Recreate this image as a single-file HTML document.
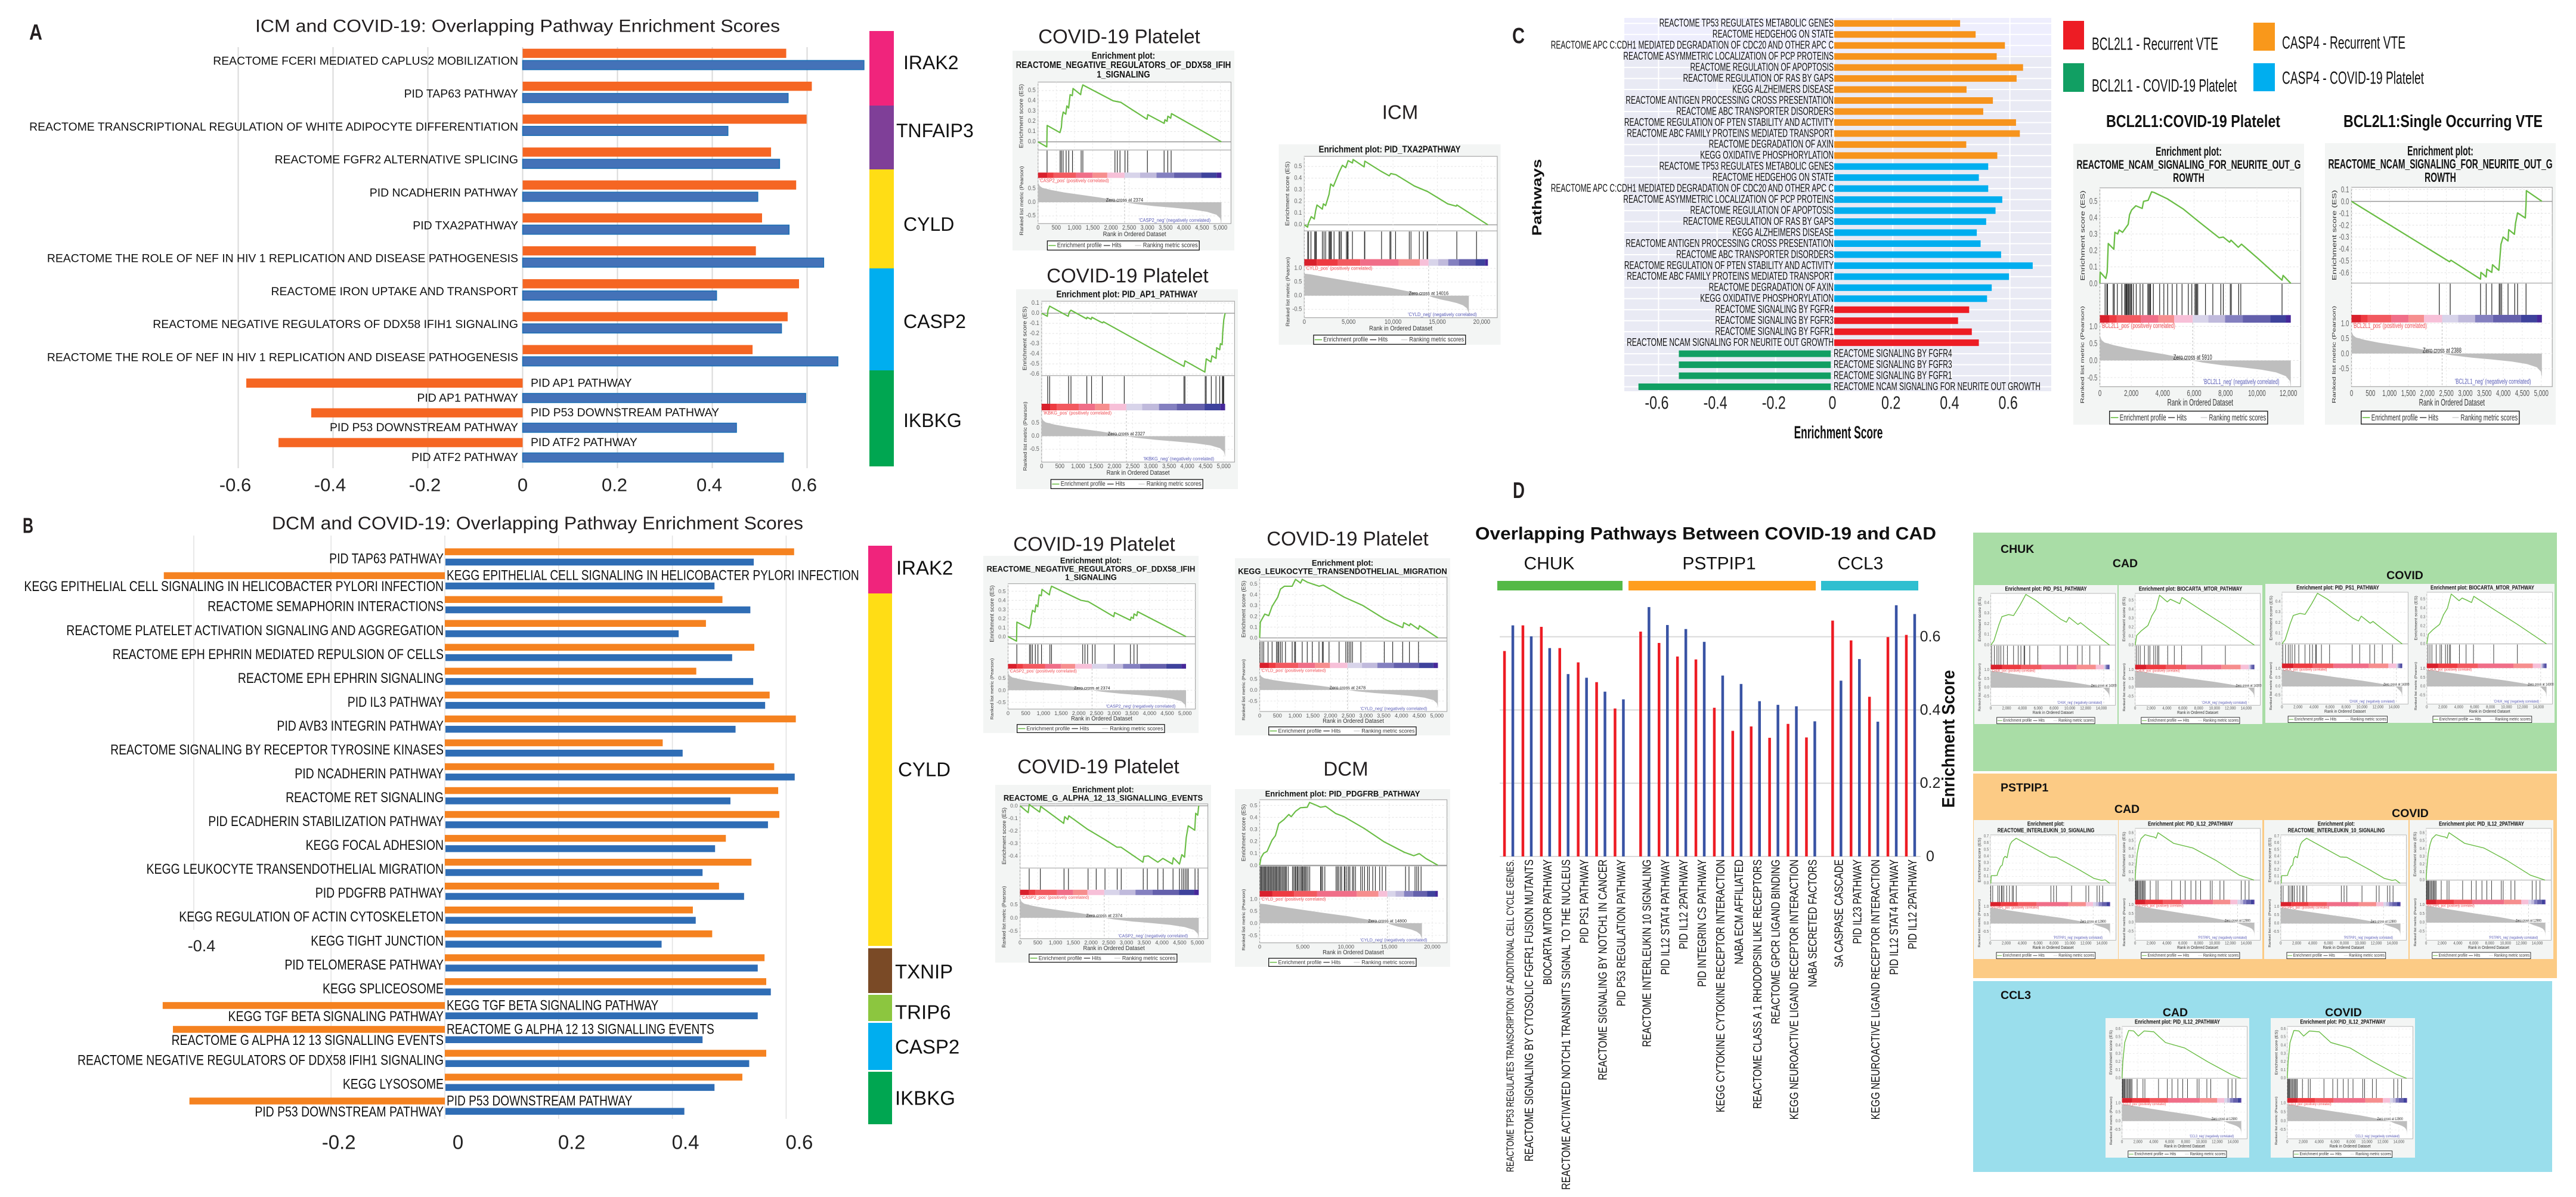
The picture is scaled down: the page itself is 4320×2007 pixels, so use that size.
<!DOCTYPE html>
<html lang="en">
<head>
<meta charset="utf-8">
<title>Overlapping Pathway Enrichment Figure</title>
<style>
html,body{margin:0;padding:0;background:#fff;}
svg{display:block;font-family:"Liberation Sans",Arial,sans-serif;}
text{dominant-baseline:central;fill:#111;}
</style>
</head>
<body>
<svg id="figure" xmlns="http://www.w3.org/2000/svg" width="4320" height="2007" viewBox="0 0 4320 2007">
<rect x="0" y="0" width="4320" height="2007" fill="#ffffff"/>

<!-- background tiles for panel D GSEA groups -->
<rect x="3309" y="893" width="979" height="400" fill="#A9DDA6"/>
<rect x="3309" y="1297" width="979" height="343" fill="#FCCB85"/>
<rect x="3309" y="1645" width="971" height="320" fill="#9ADEEC"/>

<g id="chartA"></g>
<g id="chartB"></g>
<g id="chartC"></g>
<g id="chartD"></g>
<g id="gseaPlots"></g>

<!-- panel letters -->
<text x="49" y="54" font-size="37" font-weight="700" textLength="22" lengthAdjust="spacingAndGlyphs" style="fill:#231F20">A</text>
<text x="38" y="881" font-size="36" font-weight="700" textLength="18" lengthAdjust="spacingAndGlyphs" style="fill:#231F20">B</text>
<text x="2536" y="60" font-size="37" font-weight="700" textLength="21" lengthAdjust="spacingAndGlyphs" style="fill:#231F20">C</text>
<text x="2537" y="823" font-size="38" font-weight="700" textLength="20" lengthAdjust="spacingAndGlyphs" style="fill:#231F20">D</text>

<!-- chart titles -->
<text x="428" y="44" font-size="30" textLength="880" lengthAdjust="spacingAndGlyphs" style="fill:#231F20">ICM and COVID-19: Overlapping Pathway Enrichment Scores</text>
<text x="456" y="877" font-size="31" textLength="891" lengthAdjust="spacingAndGlyphs" style="fill:#231F20">DCM and COVID-19: Overlapping Pathway Enrichment Scores</text>
<text x="2474" y="895" font-size="30" font-weight="700" textLength="773" lengthAdjust="spacingAndGlyphs">Overlapping Pathways Between COVID-19 and CAD</text>

<!-- gene strips A -->
<rect x="1458" y="52" width="41" height="125" fill="#F0247C"/>
<rect x="1458" y="177" width="41" height="107" fill="#7F3F98"/>
<rect x="1458" y="284" width="41" height="166" fill="#FFDD15"/>
<rect x="1458" y="450" width="41" height="171" fill="#00AEEF"/>
<rect x="1458" y="621" width="41" height="161" fill="#00A651"/>
<g font-size="32">
<text x="1515" y="105">IRAK2</text>
<text x="1503" y="219">TNFAIP3</text>
<text x="1515" y="376">CYLD</text>
<text x="1515" y="539">CASP2</text>
<text x="1515" y="705">IKBKG</text>
</g>

<!-- gene strips B -->
<rect x="1456" y="915" width="40" height="80" fill="#F0247C"/>
<rect x="1456" y="995" width="40" height="591" fill="#FFDD15"/>
<rect x="1456" y="1590" width="40" height="75" fill="#7A4A26"/>
<rect x="1456" y="1668" width="40" height="44" fill="#8CC63F"/>
<rect x="1456" y="1715" width="40" height="79" fill="#00AEEF"/>
<rect x="1456" y="1797" width="40" height="88" fill="#00A651"/>
<g font-size="33">
<text x="1503" y="952">IRAK2</text>
<text x="1506" y="1290">CYLD</text>
<text x="1501" y="1629">TXNIP</text>
<text x="1501" y="1697">TRIP6</text>
<text x="1501" y="1755">CASP2</text>
<text x="1501" y="1841">IKBKG</text>
</g>

<!-- legend C -->
<rect x="3460" y="35" width="35" height="48" fill="#ED1C24"/>
<text x="3508" y="74" font-size="30" textLength="212" lengthAdjust="spacingAndGlyphs">BCL2L1 - Recurrent VTE</text>
<rect x="3460" y="106" width="35" height="48" fill="#119F63"/>
<text x="3508" y="144" font-size="30" textLength="243" lengthAdjust="spacingAndGlyphs">BCL2L1 - COVID-19 Platelet</text>
<rect x="3779" y="38" width="36" height="47" fill="#F9981B"/>
<text x="3827" y="72" font-size="30" textLength="207" lengthAdjust="spacingAndGlyphs">CASP4 - Recurrent VTE</text>
<rect x="3779" y="106" width="36" height="47" fill="#00AEEF"/>
<text x="3827" y="131" font-size="30" textLength="238" lengthAdjust="spacingAndGlyphs">CASP4 - COVID-19 Platelet</text>

<!-- GSEA headers -->
<g font-size="33" style="text-anchor:middle">
<text x="1877" y="61" text-anchor="middle" style="fill:#231F20">COVID-19 Platelet</text>
<text x="1891" y="462" text-anchor="middle" style="fill:#231F20">COVID-19 Platelet</text>
<text x="2348" y="188" text-anchor="middle" style="fill:#231F20">ICM</text>
<text x="1835" y="912" text-anchor="middle" style="fill:#231F20">COVID-19 Platelet</text>
<text x="2260" y="903" text-anchor="middle" style="fill:#231F20">COVID-19 Platelet</text>
<text x="1842" y="1285" text-anchor="middle" style="fill:#231F20">COVID-19 Platelet</text>
<text x="2257" y="1289" text-anchor="middle" style="fill:#231F20">DCM</text>
</g>
<text x="3532" y="204" font-size="29" font-weight="700" textLength="292" lengthAdjust="spacingAndGlyphs">BCL2L1:COVID-19 Platelet</text>
<text x="3930" y="204" font-size="29" font-weight="700" textLength="334" lengthAdjust="spacingAndGlyphs">BCL2L1:Single Occurring VTE</text>

<!-- panel D group tile text -->
<g font-size="19.5" font-weight="700">
<text x="3355" y="921">CHUK</text>
<text x="3564" y="945" text-anchor="middle">CAD</text>
<text x="4033" y="965" text-anchor="middle">COVID</text>
<text x="3355" y="1321">PSTPIP1</text>
<text x="3567" y="1357" text-anchor="middle">CAD</text>
<text x="4042" y="1364" text-anchor="middle">COVID</text>
<text x="3355" y="1669">CCL3</text>
<text x="3648" y="1698" text-anchor="middle">CAD</text>
<text x="3930" y="1698" text-anchor="middle">COVID</text>
</g>
</svg>

<script>
/* ===== Chart A data ===== */
const catsA = ["REACTOME FCERI MEDIATED CAPLUS2 MOBILIZATION","PID TAP63 PATHWAY","REACTOME TRANSCRIPTIONAL REGULATION OF WHITE ADIPOCYTE DIFFERENTIATION","REACTOME FGFR2 ALTERNATIVE SPLICING","PID NCADHERIN PATHWAY","PID TXA2PATHWAY","REACTOME THE ROLE OF NEF IN HIV 1 REPLICATION AND DISEASE PATHOGENESIS","REACTOME IRON UPTAKE AND TRANSPORT","REACTOME NEGATIVE REGULATORS OF DDX58 IFIH1 SIGNALING","REACTOME THE ROLE OF NEF IN HIV 1 REPLICATION AND DISEASE PATHOGENESIS","PID AP1 PATHWAY","PID P53 DOWNSTREAM PATHWAY","PID ATF2 PATHWAY"];
const orangeA = [.556,.610,.599,.524,.577,.505,.492,.583,.559,.485,-.583,-.446,-.515];
const blueA = [.72,.56,.433,.542,.496,.562,.635,.409,.546,.665,.597,.451,.55];
const ticksA = [-0.6,-0.4,-0.2,0,0.2,0.4,0.6];
const tickLabelsA = ["-0.6","-0.4","-0.2","0","0.2","0.4","0.6"];

/* ===== Chart B data ===== */
const catsB = ["PID TAP63 PATHWAY","KEGG EPITHELIAL CELL SIGNALING IN HELICOBACTER PYLORI INFECTION","REACTOME SEMAPHORIN INTERACTIONS","REACTOME PLATELET ACTIVATION SIGNALING AND AGGREGATION","REACTOME EPH EPHRIN MEDIATED REPULSION OF CELLS","REACTOME EPH EPHRIN SIGNALING","PID IL3 PATHWAY","PID AVB3 INTEGRIN PATHWAY","REACTOME SIGNALING BY RECEPTOR TYROSINE KINASES","PID NCADHERIN PATHWAY","REACTOME RET SIGNALING","PID ECADHERIN STABILIZATION PATHWAY","KEGG FOCAL ADHESION","KEGG LEUKOCYTE TRANSENDOTHELIAL MIGRATION","PID PDGFRB PATHWAY","KEGG REGULATION OF ACTIN CYTOSKELETON","KEGG TIGHT JUNCTION","PID TELOMERASE PATHWAY","KEGG SPLICEOSOME","KEGG TGF BETA SIGNALING PATHWAY","REACTOME G ALPHA 12 13 SIGNALLING EVENTS","REACTOME NEGATIVE REGULATORS OF DDX58 IFIH1 SIGNALING","KEGG LYSOSOME","PID P53 DOWNSTREAM PATHWAY"];
const orangeB = [.614,-.494,.488,.459,.544,.442,.571,.617,.383,.579,.586,.588,.494,.539,.482,.436,.470,.562,.565,-.496,-.478,.565,.523,-.449];
const blueB = [.542,.473,.536,.410,.504,.541,.562,.510,.417,.614,.501,.567,.474,.452,.525,.440,.380,.549,.572,.549,.452,.534,.473,.420];
const ticksB = [-0.2,0,0.2,0.4,0.6];
const tickLabelsB = ["-0.2","0","0.2","0.4","0.6"];
const gridB = [-0.2,0,0.2,0.4,0.6];

/* ===== Chart C data ===== */
const catsC = ["REACTOME TP53 REGULATES METABOLIC GENES","REACTOME HEDGEHOG ON STATE","REACTOME APC C:CDH1 MEDIATED DEGRADATION OF CDC20 AND OTHER APC C","REACTOME ASYMMETRIC LOCALIZATION OF PCP PROTEINS","REACTOME REGULATION OF APOPTOSIS","REACTOME REGULATION OF RAS BY GAPS","KEGG ALZHEIMERS DISEASE","REACTOME ANTIGEN PROCESSING CROSS PRESENTATION","REACTOME ABC TRANSPORTER DISORDERS","REACTOME REGULATION OF PTEN STABILITY AND ACTIVITY","REACTOME ABC FAMILY PROTEINS MEDIATED TRANSPORT","REACTOME DEGRADATION OF AXIN","KEGG OXIDATIVE PHOSPHORYLATION"];
const casp4Vte = [.430,.483,.583,.555,.645,.623,.452,.542,.509,.621,.634,.451,.557];
const casp4Covid = [.526,.494,.526,.574,.551,.519,.487,.500,.570,.678,.597,.538,.522];
const catsFgfr = ["REACTOME SIGNALING BY FGFR4","REACTOME SIGNALING BY FGFR3","REACTOME SIGNALING BY FGFR1","REACTOME NCAM SIGNALING FOR NEURITE OUT GROWTH"];
const bcl2l1Vte = [.461,.423,.470,.494];
const bcl2l1Covid = [-.519,-.519,-.519,-.657];
const ticksC = [-0.6,-0.4,-0.2,0,0.2,0.4,0.6];
const tickLabelsC = ["-0.6","-0.4","-0.2","0","0.2","0.4","0.6"];

/* ===== Chart D data ===== */
const catsD = ["REACTOME TP53 REGULATES TRANSCRIPTION OF ADDITIONAL CELL CYCLE GENES.","REACTOME SIGNALING BY CYTOSOLIC FGFR1 FUSION MUTANTS","BIOCARTA MTOR PATHWAY","REACTOME ACTIVATED NOTCH1 TRANSMITS SIGNAL TO THE NUCLEUS","PID PS1 PATHWAY","REACTOME SIGNALING BY NOTCH1 IN CANCER","PID P53 REGULATION PATHWAY","REACTOME INTERLEUKIN 10 SIGNALING","PID IL12 STAT4 PATHWAY","PID IL12 2PATHWAY","PID INTEGRIN CS PATHWAY","KEGG CYTOKINE CYTOKINE RECEPTOR INTERACTION","NABA ECM AFFILIATED","REACTOME CLASS A 1 RHODOPSIN LIKE RECEPTORS","REACTOME GPCR LIGAND BINDING","KEGG NEUROACTIVE LIGAND RECEPTOR INTERACTION","NABA SECRETED FACTORS","SA CASPASE CASCADE","PID IL23 PATHWAY","KEGG NEUROACTIVE LIGAND RECEPTOR INTERACTION","PID IL12 STAT4 PATHWAY","PID IL12 2PATHWAY"];
const redD = [.561,.631,.627,.569,.530,.476,.404,.614,.583,.546,.538,.406,.343,.355,.324,.362,.325,.644,.59,.436,.599,.605];
const navyD = [.631,.601,.569,.498,.488,.45,.429,.681,.632,.621,.586,.494,.471,.424,.414,.41,.369,.48,.539,.368,.686,.662];
const ticksD = [0,0.2,0.4,0.6];
const tickLabelsD = ["0","0.2","0.4","0.6"];
const groupsD = ["CHUK","PSTPIP1","CCL3"];

/* ===== GSEA shared axis ticks ===== */
const ticks5k = [0,500,1000,1500,2000,2500,3000,3500,4000,4500,5000];
const ticks12k = [0,2000,4000,6000,8000,10000,12000];
const ticks14k = [0,2000,4000,6000,8000,10000,12000,14000];
const ticks20k = [0,5000,10000,15000,20000];
const esTicksPos5 = [0,.1,.2,.3,.4,.5];
const esTicksPos4 = [0,.1,.2,.3,.4];
const esTicksPos6 = [0,.1,.2,.3,.4,.5,.6];
const esTicksPos7 = [0,.1,.2,.3,.4,.5,.6,.7];
const esTicksAp1 = [.1,0,-.1,-.2,-.3,-.4,-.5,-.6];
const esTicksAlpha = [0,-.1,-.2,-.3,-.4];
const esTicksVte = [.1,0,-.1,-.2,-.3,-.4,-.5,-.6];
const metricTicks3 = [.5,0,-.5];
const metricTicks4 = [1,.5,0,-.5];
/* ranked-metric profiles read from the grey areas */
const metricPosFrac = [0,.02,.05,.15,.3,.5,.7,.85,1];
const metricPosVal = [.72,.60,.53,.45,.36,.27,.18,.10,0];
const metricWideFrac = [0,.05,.15,.3,.5,.7,.85,1];
const metricWideVal = [.95,.92,.82,.68,.5,.33,.17,0];
const metricNegFrac = [0,.1,.3,.5,.7,.85,.95,.99,1];
const metricNegVal = [0,-.06,-.14,-.2,-.27,-.35,-.46,-.6,-.8];
const heatPosStops = [.105,.18,.44,.63,.8,1];
const heatPosStopsWide = [.1,.27,.45,.76,.93,1];
const heatPosColors = ["#D9202C","#EE3B41","#F2595F","#F06E88","#F68E8E","#F7C0D8"];
const heatNegStops = [.16,.33,.51,.79,.95,1];
const heatNegColors = ["#D8D4EA","#C0BADC","#8480C0","#6460AC","#3E429C","#46289A"];

/* ===== GSEA series ===== */
const ddx58Rank = [0,240,250,600,640,660,690,760,790,840,880,940,960,1170,1185,1229,2060,2270,2990,3010,3460,3480,3540,3560,3640,3660,5030];
const ddx58Es = [0,-.05,.16,.09,.14,.23,.29,.27,.35,.33,.46,.45,.52,.46,.50,.555,.40,.385,.22,.265,.18,.215,.20,.25,.23,.275,0];
const ddx58Hits = [248,606,642,688,771,844,945,1183,1229,2110,2174,2248,2385,2459,3000,3458,3559,3651];
const ap1Rank = [0,157,176,222,731,760,806,1232,1250,1361,1380,1667,1700,3908,3935,4482,4519,4648,4676,4787,4806,4889,4907,4954,4972,5000,5037];
const ap1Es = [0,-.03,.03,.07,-.03,.01,.03,-.055,-.04,-.06,-.04,-.095,-.085,-.525,-.47,-.58,-.45,-.48,-.42,-.445,-.34,-.36,-.30,-.31,-.185,-.065,0];
const ap1Hits = [167,222,741,806,1241,1371,1667,2269,3908,3935,4491,4519,4658,4787,4889,4963,4982,5000];
const txa2Rank = [0,377,452,790,1130,1280,1430,2035,2150,2410,2790,2980,3280,3920,4300,4675,4940,5430,5500,6750,6820,8630,9580,9760,10330,12400,13900,16170,17120,17200,20700];
const txa2Es = [0,-.02,.01,.07,.05,.12,.17,.135,.18,.165,.26,.35,.33,.45,.51,.49,.55,.53,.56,.497,.546,.46,.42,.44,.43,.333,.285,.18,.16,.17,0];
const txa2Hits = [377,490,754,1169,1282,1357,2036,2224,2413,2790,2865,2978,3054,3356,3921,4034,4185,4750,4863,4939,5429,6786,6824,8709,9651,9764,10292,11837,12026,12968,13420,13835,13911,17191,19416];
const leukoRank = [0,19,142,255,350,510,585,700,917,1011,1153,1200,1342,1673,1795,2381,2901,3515,3752,4035,4064,4224,4252,4479,4508,5028];
const leukoEs = [0,.145,.22,.205,.29,.376,.45,.477,.477,.54,.506,.54,.514,.477,.486,.376,.30,.175,.138,.095,.14,.112,.132,.08,.112,0];
const leukoHits = [9,66,113,236,350,473,510,539,586,633,728,917,983,1011,1200,1342,1484,1673,1767,1795,1956,2240,2429,2476,2523,2570,2617,2854,3515,3752,4035,4224,4479];
const alphaRank = [0,229,258,553,582,1230,1259,1345,1374,1889,2394,2728,2843,3463,3492,3616,3883,4026,4293,4322,4493,4560,4636,4684,4741,4923,4951,5008,5037];
const alphaEs = [0,-.055,.01,-.05,-.005,-.14,-.087,-.11,-.08,-.185,-.27,-.33,-.33,-.45,-.405,-.40,-.45,-.42,-.465,-.415,-.465,-.39,-.41,-.255,-.16,-.195,-.06,-.075,0];
const alphaHits = [258,572,1240,1364,1917,2147,2394,2738,2852,3472,3587,3883,4035,4312,4493,4560,4608,4655,4703,4741,4932,5018];
const pdgfrbRank = [0,155,465,855,1435,1825,2210,2795,3375,3650,4150,4735,5510,5780,6480,7060,7640,8810,9780,12100,14430,16760,17850,18500,19280,20640];
const pdgfrbEs = [0,.063,.10,.115,.21,.247,.347,.38,.424,.405,.45,.48,.484,.524,.503,.484,.492,.432,.405,.308,.195,.108,.08,.097,.055,0];
const pdgfrbHits = [60,180,260,380,500,600,700,830,950,1050,1180,1290,1400,1530,1640,1760,1880,1970,2100,2230,2340,2460,2600,2730,2860,2980,3100,3300,3800,3950,4100,4200,4350,4400,4550,4700,4850,4950,5050,5200,5300,5450,5600,5800,7050,7150,7300,7550,8850,9000,9150,9350,9500,9800,9900,10100,10300,10450,10750,10900,11100,11700,11900,12150,12500,12700,13100,13400,13900,14200,14600,16900,17300,18000,18200,18400,18700];
const ncamCovidRank = [0,22,378,467,534,890,957,1135,1224,1447,1803,1892,2026,2292,2693,2782,3072,3295,3450,4296,5298,6300,7590,7858,8258,8347,8815,9015,10084,11597,11665,12154];
const ncamCovidEs = [0,.068,.03,.068,.242,.207,.31,.30,.324,.31,.358,.417,.446,.471,.455,.498,.504,.556,.552,.513,.452,.374,.277,.281,.25,.262,.219,.238,.149,.019,.048,0];
const ncamCovidHits = [334,445,490,846,913,1113,1402,1580,1647,1692,1736,1803,1847,1914,1981,2026,2137,2315,2560,2738,3050,3117,3183,3228,3406,3806,4073,4318,4607,4897,5231,5631,5853,6054,6121,6165,6232,6722,7190,7701,7858,8303,8370,8837,8971,11597];
const ncamVteRank = [0,2583,2620,3400,3409,3549,3567,3697,3716,3883,3902,3939,3995,4125,4143,4292,4320,4376,4580,4599,4608,5017];
const ncamVteEs = [0,-.508,-.495,-.654,-.597,-.636,-.57,-.597,-.533,-.58,-.505,-.36,-.30,-.333,-.238,-.277,-.187,-.097,-.14,-.025,.09,0];
const ncamVteHits = [2313,2601,3400,3549,3697,3892,3920,3957,4125,4301,4376,4599];
const ps1Rank = [0,390,1020,1410,2240,2880,3710,4440,5660,8830,9570,9910,11030,11370,12350,15030];
const ps1Es = [0,.04,.19,.27,.29,.28,.38,.48,.425,.246,.217,.263,.196,.213,.154,0];
const ps1Hits = [100,440,780,1020,1270,1610,2100,2880,3460,3810,4200,4300,4930,5950,8780,9710,10980,11570,12540,13810];
const mtorRank = [0,195,730,1610,2100,2590,3070,4050,4440,5610,5900,8200,11370,15030];
const mtorEs = [0,.108,.157,.22,.328,.40,.56,.485,.515,.465,.534,.40,.22,0];
const mtorHits = [146,390,634,1171,1660,1854,2342,2586,2830,2977,4100,4930,5856,8394,11370];
const il10Rank = [0,60,120,300,850,950,1300,1500,1650,1850,2100,2300,2500,2700,3250,7500,8300,11000,13000,14000,14400,15000];
const il10Es = [0,.0,.11,.11,.115,.16,.25,.27,.37,.40,.38,.50,.58,.62,.67,.39,.385,.21,.07,.04,.05,-.005];
const il10Hits = [60,300,950,1150,1400,1500,1700,2050,2400,2750,2900,3250,7600,7950,8300,10200,12000,12350,13400,13700,14100];
const il12Rank = [0,70,260,500,740,1250,1900,2400,2640,2880,4830,7270,10200,13130,14990];
const il12Es = [0,.13,.34,.46,.53,.58,.56,.55,.535,.606,.47,.41,.25,.064,0];
const il12Hits = [40,100,180,280,380,500,640,760,900,1000,1130,1250,1900,2640,2880,4600,5710,6300,7030,7650,8250,9470,9710,10690,11180,13370,13860,14350];
const il12CclRank = [0,100,340,830,1460,2050,2780,4000,5470,7900,10830,13760,14980];
const il12CclEs = [0,.2,.435,.58,.575,.513,.575,.565,.435,.368,.2,.047,0];

/* ===== helpers ===== */
const NS = 'http://www.w3.org/2000/svg';
function mk(parent,tag,attrs){
  const el = document.createElementNS(NS,tag);
  for(const k in attrs) el.setAttribute(k,attrs[k]);
  parent.appendChild(el);
  return el;
}
function rectEl(p,x,y,w,h,fill){
  if(w<0){x+=w;w=-w;}
  return mk(p,'rect',{x:x,y:y,width:w,height:h,fill:fill});
}
function lineEl(p,x1,y1,x2,y2,stroke,sw,dash){
  const a = {x1:x1,y1:y1,x2:x2,y2:y2,stroke:stroke,'stroke-width':sw};
  if(dash) a['stroke-dasharray']=dash;
  return mk(p,'line',a);
}
function label(p,x,y,str,size,o){
  o = o||{};
  let tr = 'translate('+x+' '+y+')';
  if(o.rot) tr += ' rotate('+o.rot+')';
  if(o.sx||o.sy) tr += ' scale('+(o.sx||1)+' '+(o.sy||1)+')';
  const el = mk(p,'text',{transform:tr,'font-size':size,'text-anchor':o.anchor||'start','font-weight':o.weight||400});
  if(o.fill) el.style.fill = o.fill;
  el.textContent = str;
  return el;
}

/* ===== Chart A ===== */
(function(){
  const g = document.getElementById('chartA');
  const xA = v => 876.5 + v*795;
  const yA = i => i<10 ? 81.7 + i*55.2 : 634.6 + (i-10)*49.9;
  ticksA.forEach((t,i)=>{
    const gl = lineEl(g,xA(t),79,xA(t),785,'#D9D9D9',2);
    
    
    const tl = label(g,xA(t)+(t===0?0:-5),813,tickLabelsA[i],31,{anchor:'middle',fill:'#222'});
    
    
  });
  catsA.forEach((c,i)=>{
    const neg = orangeA[i]<0;
    const y = yA(i);
    const off = neg ? 25 : 19.7;
    const ob = rectEl(g,xA(0),y,xA(orangeA[i])-xA(0),15.4,'#F56623');
    
    
    const bb = rectEl(g,xA(0),y+off,xA(blueA[i])-xA(0),15.4,'#4472B8');
    bb.setAttribute('stroke','#1A6FB5');
    bb.setAttribute('stroke-width','1.5');
    
    
    const lab = label(g,869,neg? y+off+7.7 : y+20.8,c,19.4,{anchor:'end'});
    
    
    if(neg){
      const rl = label(g,890,y+7.7,c,19.4);
      
      
    }
  });
})();

/* ===== Chart B ===== */
(function(){
  const g = document.getElementById('chartB');
  const xB = v => 746 + v*954;
  const yB = i => 919.4 + i*40.04;
  gridB.forEach(t=>{
    const gl = lineEl(g,xB(t),898,xB(t),1876,'#E2E2E2',1.5);
    
    
  });
  const stray = lineEl(g,325,898,325,1559,'#E2E2E2',1.5);
  
  
  const strayLabel = label(g,338,1586,'-0.4',27,{anchor:'middle',fill:'#222'});
  
  
  ticksB.forEach((t,i)=>{
    const tl = label(g,xB(t)+(t<0?13:22),1915,tickLabelsB[i],33,{anchor:'middle',fill:'#222'});
    
    
  });
  catsB.forEach((c,i)=>{
    const neg = orangeB[i]<0;
    const y = yB(i);
    const ob = rectEl(g,xB(0),y,xB(orangeB[i])-xB(0),11.5,'#F58220');
    
    
    const bb = rectEl(g,xB(0)+1,y+17.3,xB(blueB[i])-xB(0),11.5,'#2F6DB5');
    
    
    const lab = label(g,744,neg? y+23.5 : y+17,c,24,{anchor:'end',sx:.81});
    
    
    if(neg){
      const rl = label(g,749,y+5,c,24,{sx:.796});
      
      
    }
  });
})();

/* ===== Chart C ===== */
(function(){
  const g = document.getElementById('chartC');
  const xC = v => 3076 + v*491;
  const yC = i => 39.3 + i*18.46;
  const bg = rectEl(g,2724,30,716,626,'#E9EAF4');
  
  
  const bgTop = rectEl(g,2724,30,716,62,'#EEEEFD');
  
  
  ticksC.forEach((t,i)=>{
    const gl = lineEl(g,xC(t),30,xC(t),656,'#ffffff',2);
    
    
    const tl = label(g,xC(t)-3,675,tickLabelsC[i],31,{anchor:'middle',sx:.75,fill:'#222'});
    
    
  });
  const n = catsC.length;
  for(let i=0;i<n*2+catsFgfr.length*2;i++){
    const hl = lineEl(g,2724,yC(i),3440,yC(i),'#ffffff',2);
    
    
  }
  const h = 11;
  casp4Vte.forEach((v,i)=>{
    const b = rectEl(g,xC(0),yC(i)-h/2,xC(v)-xC(0),h,'#F7941D');
    
    
    const l = label(g,3075,yC(i),catsC[i],18.7,{anchor:'end',sx:.643});
    
    
  });
  casp4Covid.forEach((v,i)=>{
    const b = rectEl(g,xC(0),yC(n+i)-h/2,xC(v)-xC(0),h,'#00AEEF');
    
    
    const l = label(g,3075,yC(n+i),catsC[i],18.7,{anchor:'end',sx:.643});
    
    
  });
  bcl2l1Vte.forEach((v,i)=>{
    const b = rectEl(g,xC(0),yC(2*n+i)-h/2,xC(v)-xC(0),h,'#ED1C24');
    
    
    const l = label(g,3075,yC(2*n+i),catsFgfr[i],18.7,{anchor:'end',sx:.643});
    
    
  });
  bcl2l1Covid.forEach((v,i)=>{
    const b = rectEl(g,xC(0)-5.7,yC(2*n+4+i)-h/2,xC(v)-xC(0),h,'#119F63');
    
    
    const l = label(g,3075,yC(2*n+4+i),catsFgfr[i],18.7,{sx:.643});
    
    
  });
  const xt = label(g,3083,726,'Enrichment Score',30,{anchor:'middle',weight:700,sx:.58});
  
  
  const yt = label(g,2578,331,'Pathways',22,{anchor:'middle',weight:700,rot:-90,sx:1.27});
  
  
})();

/* ===== Chart D ===== */
(function(){
  const g = document.getElementById('chartD');
  const xD = i => 2523 + i*30.9 + (i>=7?12:0) + (i>=17?13:0);
  const yD = v => 1436 - v*614;
  const barColors = ['#55B947','#FF9E1F','#2FBFD0'];
  const barSpans = [[2511,2721],[2731,3045],[3054,3217]];
  const groupCenters = [2598,2883,3120];
  groupsD.forEach((name,i)=>{
    const t = label(g,groupCenters[i],945,name,30,{anchor:'middle'});
    
    
    const b = rectEl(g,barSpans[i][0],974,barSpans[i][1]-barSpans[i][0],16,barColors[i]);
    
    
  });
  ticksD.forEach((t,i)=>{
    const gl = lineEl(g,2515,yD(t),3221,yD(t),'#D9D9D9',2);
    
    
    const tl = label(g,3237,yD(t),tickLabelsD[i],25,{anchor:'middle',fill:'#222'});
    
    
  });
  catsD.forEach((c,i)=>{
    const r = rectEl(g,xD(i)-2.2,yD(redD[i]),4.5,yD(0)-yD(redD[i]),'#ED1C24');
    
    
    const b = rectEl(g,xD(i)+11.8,yD(navyD[i]),4.5,yD(0)-yD(navyD[i]),'#3953A4');
    
    
    const l = label(g,xD(i)+10.5,1441,c,i===0?18:20,{anchor:'end',rot:-90,sx:i===0?.706:.8});
    
    
  });
  const yt = label(g,3268,1239,'Enrichment Score',30,{anchor:'middle',weight:700,rot:-90,sx:.9});
  
  
})();

/* ===== GSEA plots ===== */
const gseaRoot = document.getElementById('gseaPlots');
const layouts = [[.06,.432,.573,.606],[.107,.468,.59,.62],[.157,.497,.61,.637]];
function gsea(c){
  const g = mk(gseaRoot,'g',{});
  
  
  const k = c.w/372, tall = 1.278*c.h/c.w, L = layouts[c.lines.length-1];
  const X = c.x, Y = c.y, W = c.w, H = c.h;
  const px = X+.115*W, pr = X+.985*W;
  const T = Y+L[0]*H, B = Y+L[1]*H, HE = Y+L[2]*H, CE = Y+L[3]*H, ME = Y+.865*H;
  const xs = r => px + r/c.xMax*(pr-px);
  const yE = v => T + (c.esMax-v)/(c.esMax-c.esMin)*(B-T);
  const yM = v => CE + (c.mMax-v)/(c.mMax-c.mMin)*(ME-CE);
  const hText = (x,y,s,size,o) => { o=o||{}; o.sx=1/tall; return label(g,x,y,s,size*k*tall,o); };
  const wide = c.zc>=12000;

  const bg = rectEl(g,X,Y,W,H,'#F3F5F4');
  
  
  c.lines.forEach((s,i)=>{
    const tl = hText(X+.5*W,Y+(.027+i*.047)*H,s,13.4*(c.ts||1),{anchor:'middle',weight:700});
    
    
  });
  const white = rectEl(g,px,T,pr-px,ME-T,'#ffffff');
  white.setAttribute('stroke','#A8A8A8');
  white.setAttribute('stroke-width',1.2*k);
  
  

  c.esTicks.forEach(v=>{
    const gl = lineEl(g,px,yE(v),pr,yE(v),v===0?'#999':'#E2E2E2',v===0?1.4*k:1*k,v===0?'':'3 3');
    
    
    const tl = hText(px-4*k,yE(v),v.toFixed(1),9.3,{anchor:'end',fill:'#666'});
    
    
  });
  c.xTicks.forEach(v=>{
    const gl = lineEl(g,xs(v),T,xs(v),ME,'#EAEAEA',1*k,'3 3');
    
    
    const tl = hText(xs(v),Y+.888*H,v.toLocaleString('en-US'),9.3,{anchor:'middle',fill:'#555'});
    
    
  });
  const sep = lineEl(g,px,B,pr,B,'#A8A8A8',1.2*k);
  
  

  const pts = c.rank.map((r,i)=>xs(r).toFixed(1)+','+yE(c.es[i]).toFixed(1)).join(' ');
  const curve = mk(g,'polyline',{points:pts,fill:'none',stroke:'#6ABD45','stroke-width':Math.max(1.3,2.2*k),'stroke-linejoin':'round'});
  
  

  c.hits.forEach(h=>{
    const hl = lineEl(g,xs(h),B+1,xs(h),HE,'#2A2A2A',Math.max(.9,1.2*k));
    
    
  });

  let prev = 0;
  (wide?heatPosStopsWide:heatPosStops).forEach((s,i)=>{
    const r = s*c.zc;
    const cell = rectEl(g,xs(prev),HE,xs(r)-xs(prev),CE-HE,heatPosColors[i]);
    
    
    prev = r;
  });
  heatNegStops.forEach((s,i)=>{
    const r = c.zc + s*(c.rankEnd-c.zc);
    const cell = rectEl(g,xs(prev),HE,xs(r)-xs(prev),CE-HE,heatNegColors[i]);
    
    
    prev = r;
  });

  c.mTicks.forEach(v=>{
    const gl = lineEl(g,px,yM(v),pr,yM(v),'#E6E6E6',1*k,'3 3');
    
    
    const tl = hText(px-4*k,yM(v),v.toFixed(1),9.3,{anchor:'end',fill:'#666'});
    
    
  });
  const mEnd = c.metricEnd||c.rankEnd, pS = c.mPos||1;
  const posF = wide?metricWideFrac:metricPosFrac, posV = wide?metricWideVal:metricPosVal;
  let posPts = xs(0)+','+yM(0);
  posF.forEach((f,i)=>{ posPts += ' '+xs(f*c.zc).toFixed(1)+','+yM(posV[i]*pS).toFixed(1); });
  const posArea = mk(g,'polygon',{points:posPts,fill:'#BEBEBE'});
  
  
  let negPts = xs(c.zc)+','+yM(0);
  metricNegFrac.forEach((f,i)=>{ negPts += ' '+xs(c.zc+f*(mEnd-c.zc)).toFixed(1)+','+yM(metricNegVal[i]).toFixed(1); });
  negPts += ' '+xs(mEnd)+','+yM(0);
  const negArea = mk(g,'polygon',{points:negPts,fill:'#BEBEBE'});
  
  
  const zl = lineEl(g,xs(c.zc),CE,xs(c.zc),ME,'#BBBBBB',1*k,'3 3');
  
  

  const zt = hText(xs(c.zc),yM(0)-4*k,'Zero cross at '+c.zc,7.5,{anchor:'middle',fill:'#222'});
  
  
  const pl = hText(px+2*k,CE+.013*H,"'"+c.gene+"_pos' (positively correlated)",7.5,{fill:'#F0484E'});
  
  
  const nl = hText(px+.894*(pr-px),Y+.849*H,"'"+c.gene+"_neg' (negatively correlated)",7.5,{anchor:'end',fill:'#5558B5'});
  
  

  const esY = label(g,X+.041*W,(T+B)/2,'Enrichment score (ES)',9.3*k,{anchor:'middle',rot:-90,sx:tall,fill:'#333'});
  
  
  const mY = label(g,X+.041*W,(CE+ME)/2,'Ranked list metric (Pearson)',8*k,{anchor:'middle',rot:-90,sx:tall,fill:'#333'});
  
  
  const xT = hText(X+.55*W,Y+.921*H,'Rank in Ordered Dataset',9.6,{anchor:'middle',fill:'#333'});
  
  

  const lb = rectEl(g,X+.157*W,Y+.952*H,.685*W,.046*H,'#ffffff');
  lb.setAttribute('stroke','#111');
  lb.setAttribute('stroke-width',1.3*k);
  
  
  const ly = Y+.975*H;
  const l1 = lineEl(g,X+.162*W,ly,X+.195*W,ly,'#6ABD45',1.6*k);
  
  
  const t1 = hText(X+.201*W,ly,'Enrichment profile',9.3,{fill:'#333'});
  
  
  const l2 = lineEl(g,X+.411*W,ly,X+.44*W,ly,'#555',1.6*k);
  
  
  const t2 = hText(X+.448*W,ly,'Hits',9.3,{fill:'#333'});
  
  
  const l3 = lineEl(g,X+.552*W,ly,X+.58*W,ly,'#D5D5D5',1.6*k);
  
  
  const t3 = hText(X+.588*W,ly,'Ranking metric scores',9.3,{fill:'#333'});
  
  
}

const ddx58Title = ['Enrichment plot:','REACTOME_NEGATIVE_REGULATORS_OF_DDX58_IFIH','1_SIGNALING'];
const ncamTitle = ['Enrichment plot:','REACTOME_NCAM_SIGNALING_FOR_NEURITE_OUT_G','ROWTH'];

/* panel A plots */
gsea({x:1698,y:85,w:372,h:335,lines:ddx58Title,rank:ddx58Rank,es:ddx58Es,hits:ddx58Hits,esMax:.583,esMin:-.08,esTicks:esTicksPos5,xMax:5293,xTicks:ticks5k,rankEnd:5030,zc:2374,mMax:.89,mMin:-.78,mTicks:metricTicks3,gene:'CASP2'});
gsea({x:1704,y:485,w:372,h:335,lines:['Enrichment plot: PID_AP1_PATHWAY'],rank:ap1Rank,es:ap1Es,hits:ap1Hits,esMax:.118,esMin:-.615,esTicks:esTicksAp1,xMax:5297,xTicks:ticks5k,rankEnd:5037,zc:2327,mMax:.99,mMin:-.99,mTicks:metricTicks3,gene:'IKBKG'});
gsea({x:2144.5,y:242,w:372,h:336,lines:['Enrichment plot: PID_TXA2PATHWAY'],rank:txa2Rank,es:txa2Es,hits:txa2Hits,esMax:.587,esMin:-.052,esTicks:esTicksPos5,xMax:21750,xTicks:ticks20k,rankEnd:20700,metricEnd:18550,zc:14016,mMax:1.096,mMin:-.807,mPos:.85,mTicks:metricTicks4,gene:'CYLD'});

/* panel B plots */
gsea({x:1649,y:932,w:361,h:297,lines:ddx58Title,rank:ddx58Rank,es:ddx58Es,hits:ddx58Hits,esMax:.583,esMin:-.08,esTicks:esTicksPos5,xMax:5293,xTicks:ticks5k,rankEnd:5030,zc:2374,mMax:.89,mMin:-.78,mTicks:metricTicks3,gene:'CASP2'});
gsea({x:2071,y:936,w:361,h:297,lines:['Enrichment plot:','KEGG_LEUKOCYTE_TRANSENDOTHELIAL_MIGRATION'],rank:leukoRank,es:leukoEs,hits:leukoHits,esMax:.56,esMin:-.03,esTicks:esTicksPos5,xMax:5283,xTicks:ticks5k,rankEnd:5028,zc:2478,mMax:.986,mMin:-.97,mTicks:metricTicks3,gene:'CYLD'});
gsea({x:1669,y:1316,w:362,h:298,lines:['Enrichment plot:','REACTOME_G_ALPHA_12_13_SIGNALLING_EVENTS'],rank:alphaRank,es:alphaEs,hits:alphaHits,esMax:.015,esMin:-.497,esTicks:esTicksAlpha,xMax:5293,xTicks:ticks5k,rankEnd:5037,zc:2374,mMax:.857,mMin:-.786,mTicks:metricTicks3,gene:'CASP2'});
gsea({x:2071,y:1323,w:361,h:298,lines:['Enrichment plot: PID_PDGFRB_PATHWAY'],rank:pdgfrbRank,es:pdgfrbEs,hits:pdgfrbHits,esMax:.547,esMin:-.005,esTicks:esTicksPos5,xMax:21700,xTicks:ticks20k,rankEnd:20640,metricEnd:18800,zc:14800,mMax:1.09,mMin:-.81,mPos:.85,mTicks:metricTicks4,gene:'CYLD'});

/* panel C plots */
gsea({x:3477,y:241,w:387,h:471,lines:ncamTitle,rank:ncamCovidRank,es:ncamCovidEs,hits:ncamCovidHits,esMax:.58,esMin:0,esTicks:esTicksPos5,xMax:12780,xTicks:ticks12k,rankEnd:12154,zc:5910,mMax:1.11,mMin:-.77,mTicks:metricTicks4,gene:'BCL2L1'});
gsea({x:3899,y:240,w:387,h:472,lines:ncamTitle,rank:ncamVteRank,es:ncamVteEs,hits:ncamVteHits,esMax:.118,esMin:-.687,esTicks:esTicksVte,xMax:5290,xTicks:ticks5k,rankEnd:5017,zc:2388,mMax:1.03,mMin:-1.1,mTicks:metricTicks4,gene:'BCL2L1'});

/* panel D small plots: CHUK */
gsea({x:3311,y:981,w:240,h:233,ts:.9,lines:['Enrichment plot: PID_PS1_PATHWAY'],rank:ps1Rank,es:ps1Es,hits:ps1Hits,esMax:.49,esMin:0,esTicks:esTicksPos4,xMax:15760,xTicks:ticks14k,rankEnd:15030,zc:14300,mMax:1.04,mMin:-1,mTicks:metricTicks4,gene:'CHUK'});
gsea({x:3553,y:981,w:241,h:233,ts:.9,lines:['Enrichment plot: BIOCARTA_MTOR_PATHWAY'],rank:mtorRank,es:mtorEs,hits:mtorHits,esMax:.58,esMin:0,esTicks:esTicksPos5,xMax:15760,xTicks:ticks14k,rankEnd:15030,zc:14300,mMax:1.04,mMin:-1,mTicks:metricTicks4,gene:'CHUK'});
gsea({x:3799,y:979,w:243,h:233,ts:.9,lines:['Enrichment plot: PID_PS1_PATHWAY'],rank:ps1Rank,es:ps1Es,hits:ps1Hits,esMax:.49,esMin:0,esTicks:esTicksPos4,xMax:15760,xTicks:ticks14k,rankEnd:15030,zc:14300,mMax:1.04,mMin:-1,mTicks:metricTicks4,gene:'CHUK'});
gsea({x:4042,y:979,w:242,h:233,ts:.9,lines:['Enrichment plot: BIOCARTA_MTOR_PATHWAY'],rank:mtorRank,es:mtorEs,hits:mtorHits,esMax:.58,esMin:0,esTicks:esTicksPos5,xMax:15760,xTicks:ticks14k,rankEnd:15030,zc:14300,mMax:1.04,mMin:-1,mTicks:metricTicks4,gene:'CHUK'});

/* panel D small plots: PSTPIP1 */
gsea({x:3310,y:1375,w:242,h:233,ts:.9,lines:['Enrichment plot:','REACTOME_INTERLEUKIN_10_SIGNALING'],rank:il10Rank,es:il10Es,hits:il10Hits,esMax:.72,esMin:-.03,esTicks:esTicksPos7,xMax:15760,xTicks:ticks14k,rankEnd:15030,zc:12900,mMax:1.04,mMin:-1,mTicks:metricTicks4,gene:'PSTPIP1'});
gsea({x:3553,y:1375,w:241,h:233,ts:.9,lines:['Enrichment plot: PID_IL12_2PATHWAY'],rank:il12Rank,es:il12Es,hits:il12Hits,esMax:.66,esMin:0,esTicks:esTicksPos6,xMax:15760,xTicks:ticks14k,rankEnd:15030,zc:12900,mMax:1.04,mMin:-1,mTicks:metricTicks4,gene:'PSTPIP1'});
gsea({x:3797,y:1375,w:242,h:233,ts:.9,lines:['Enrichment plot:','REACTOME_INTERLEUKIN_10_SIGNALING'],rank:il10Rank,es:il10Es,hits:il10Hits,esMax:.72,esMin:-.03,esTicks:esTicksPos7,xMax:15760,xTicks:ticks14k,rankEnd:15030,zc:12900,mMax:1.04,mMin:-1,mTicks:metricTicks4,gene:'PSTPIP1'});
gsea({x:4041,y:1375,w:241,h:233,ts:.9,lines:['Enrichment plot: PID_IL12_2PATHWAY'],rank:il12Rank,es:il12Es,hits:il12Hits,esMax:.66,esMin:0,esTicks:esTicksPos6,xMax:15760,xTicks:ticks14k,rankEnd:15030,zc:12900,mMax:1.04,mMin:-1,mTicks:metricTicks4,gene:'PSTPIP1'});

/* panel D small plots: CCL3 */
gsea({x:3531,y:1707,w:241,h:234,ts:.9,lines:['Enrichment plot: PID_IL12_2PATHWAY'],rank:il12CclRank,es:il12CclEs,hits:il12Hits,esMax:.63,esMin:0,esTicks:esTicksPos6,xMax:15760,xTicks:ticks14k,rankEnd:15030,zc:12900,mMax:1.04,mMin:-1,mTicks:metricTicks4,gene:'CCL3'});
gsea({x:3808,y:1707,w:242,h:234,ts:.9,lines:['Enrichment plot: PID_IL12_2PATHWAY'],rank:il12CclRank,es:il12CclEs,hits:il12Hits,esMax:.63,esMin:0,esTicks:esTicksPos6,xMax:15760,xTicks:ticks14k,rankEnd:15030,zc:12900,mMax:1.04,mMin:-1,mTicks:metricTicks4,gene:'CCL3'});
</script>
</body>
</html>
